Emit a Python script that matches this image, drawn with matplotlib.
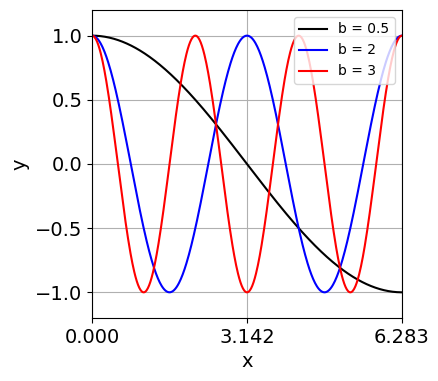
import numpy as np
import matplotlib
matplotlib.use("Agg")
import matplotlib.pyplot as plt

b_values = [0.5, 2, 3]
colors = ["black", "blue", "red"]
labels = ["b = 0.5", "b = 2", "b = 3"]
xticks = [0.0, np.pi, 2 * np.pi]
xtick_labels = ["0.000", "3.142", "6.283"]
yticks = [-1.0, -0.5, 0.0, 0.5, 1.0]

x = np.linspace(0, 2 * np.pi, 500)

fig = plt.figure(figsize=(4.39, 3.81), dpi=100)
ax = fig.add_axes([0.2096, 0.1654, 0.7061, 0.8084])
for b, c, lab in zip(b_values, colors, labels):
    ax.plot(x, np.cos(b * x), color=c, label=lab, linewidth=1.5)

ax.set_xlim(0, 2 * np.pi)
ax.set_ylim(-1.2, 1.2)
ax.set_xticks(xticks)
ax.set_xticklabels(xtick_labels)
ax.set_yticks(yticks)
ax.tick_params(labelsize=14)
ax.set_xlabel("x", fontsize=14)
ax.set_ylabel("y", fontsize=14)
ax.grid(True)
ax.legend(loc="upper right", fontsize=10)
fig.savefig("out.png", dpi=100)
